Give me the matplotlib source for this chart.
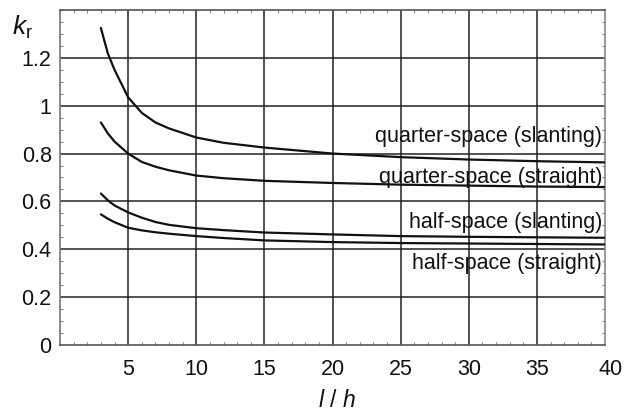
import matplotlib
matplotlib.use("Agg")
import matplotlib.pyplot as plt
import matplotlib.transforms as mtransforms
from matplotlib.ticker import MultipleLocator

# datos (l/h vs k_r)
l_h = [3, 3.5, 4, 5, 6, 7, 8, 10, 12, 15, 20, 25, 30, 35, 40]
quarter_slanting = [1.325, 1.22, 1.15, 1.035, 0.97, 0.93, 0.905, 0.867, 0.845, 0.825, 0.80, 0.785, 0.775, 0.768, 0.763]
quarter_straight = [0.93, 0.885, 0.85, 0.80, 0.765, 0.745, 0.73, 0.708, 0.697, 0.686, 0.677, 0.67, 0.666, 0.662, 0.66]
half_slanting = [0.633, 0.605, 0.583, 0.554, 0.532, 0.514, 0.502, 0.488, 0.48, 0.47, 0.462, 0.455, 0.452, 0.45, 0.448]
half_straight = [0.546, 0.528, 0.513, 0.49, 0.479, 0.471, 0.465, 0.455, 0.447, 0.437, 0.43, 0.426, 0.424, 0.422, 0.42]

labels = ["quarter-space (slanting)", "quarter-space (straight)",
          "half-space (slanting)", "half-space (straight)"]
label_y = [0.87, 0.70, 0.51, 0.34]

x_ticks = [5, 10, 15, 20, 25, 30, 35, 40]
y_ticks = [0, 0.2, 0.4, 0.6, 0.8, 1.0, 1.2]
y_ticklabels = ["0", "0.2", "0.4", "0.6", "0.8", "1", "1.2"]

plt.rcParams['font.family'] = ['Liberation Sans', 'DejaVu Sans']
plt.rcParams['mathtext.fontset'] = 'custom'
plt.rcParams['mathtext.rm'] = 'Liberation Sans'
plt.rcParams['mathtext.it'] = 'Liberation Sans:italic'

fig = plt.figure(figsize=(6.27, 4.15), dpi=100)
ax = fig.add_axes([0.0957, 0.1687, 0.8693, 0.8073])

for serie in [quarter_slanting, quarter_straight, half_slanting, half_straight]:
    ax.plot(l_h, serie, color='#111111', lw=1.6, solid_capstyle='round', zorder=3)

for txt, yy in zip(labels, label_y):
    ax.text(39.8, yy, txt, ha='right', va='center', fontsize=15.5, color='#111111', zorder=4)

ax.set_xlim(0, 40)
ax.set_ylim(0, 1.4)
ax.set_xticks(x_ticks)
ax.set_yticks(y_ticks)
ax.set_yticklabels(y_ticklabels)
ax.xaxis.set_minor_locator(MultipleLocator(1))
ax.yaxis.set_minor_locator(MultipleLocator(0.05))

ax.tick_params(axis='both', which='major', length=0, labelsize=15.5, colors='#111111')
ax.tick_params(axis='x', which='major', pad=10)
ax.tick_params(axis='y', which='major', pad=6)
ax.tick_params(axis='both', which='minor', direction='in', length=2.5, width=0.8, color='#888888')
ax.tick_params(axis='x', which='minor', top=True)
ax.tick_params(axis='y', which='minor', right=True)

ax.grid(True, which='major', color='#222222', lw=1.1, zorder=1)
ax.get_xgridlines()[-1].set_visible(False)
ax.get_ygridlines()[0].set_visible(False)

for s in ax.spines.values():
    s.set_color('#555555')
    s.set_linewidth(1.2)
ax.spines['right'].set_color('#888888')
ax.spines['right'].set_linestyle((0, (2, 1)))
ax.spines['left'].set_color('#777777')

# el "40" aparece algo desplazado a la derecha en el original
lbl = ax.get_xticklabels()[-1]
lbl.set_transform(lbl.get_transform() + mtransforms.ScaledTranslation(0.06, 0, fig.dpi_scale_trans))

fig.text(0.036, 0.935, r"$k_\mathrm{r}$", fontsize=19, ha='center', va='center', color='#111111')
fig.text(0.537, 0.035, r"$l\ /\ h$", fontsize=16.5, ha='center', va='center', color='#111111')

plt.savefig('out.png', dpi=100)
